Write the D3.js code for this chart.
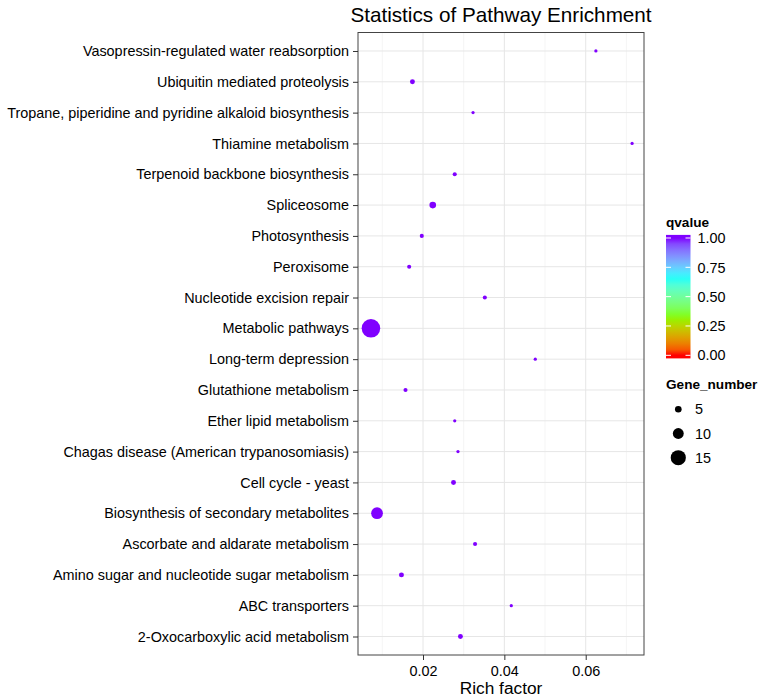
<!DOCTYPE html>
<html><head><meta charset="utf-8">
<script src="https://cdn.jsdelivr.net/npm/d3@7"></script>
<style>body{margin:0;background:#fff} text{font-family:"Liberation Sans",Arial,Helvetica,sans-serif}</style>
</head><body><svg id="c" width="765" height="699"></svg>
<script>
// ---- data (top to bottom as displayed) ----
const pathways = [
  "Vasopressin-regulated water reabsorption",
  "Ubiquitin mediated proteolysis",
  "Tropane, piperidine and pyridine alkaloid biosynthesis",
  "Thiamine metabolism",
  "Terpenoid backbone biosynthesis",
  "Spliceosome",
  "Photosynthesis",
  "Peroxisome",
  "Nucleotide excision repair",
  "Metabolic pathways",
  "Long-term depression",
  "Glutathione metabolism",
  "Ether lipid metabolism",
  "Chagas disease (American trypanosomiasis)",
  "Cell cycle - yeast",
  "Biosynthesis of secondary metabolites",
  "Ascorbate and aldarate metabolism",
  "Amino sugar and nucleotide sugar metabolism",
  "ABC transporters",
  "2-Oxocarboxylic acid metabolism"
];
const richFactor = [0.0625, 0.0174, 0.0323, 0.0714, 0.0278, 0.0224, 0.0197, 0.0166, 0.0352, 0.0072,
                    0.0476, 0.0157, 0.0278, 0.0286, 0.0275, 0.0087, 0.0328, 0.0147, 0.0417, 0.0292];
const geneNumber = [1, 3, 1, 1, 2, 5, 2, 2, 2, 19, 1, 2, 1, 1, 3, 11, 2, 3, 1, 3];
const qvalue     = [1, 1, 1, 1, 1, 1, 1, 1, 1, 1, 1, 1, 1, 1, 1, 1, 1, 1, 1, 1];
const xTicks = [0.02, 0.04, 0.06];
const xMinor = [0.01, 0.03, 0.05, 0.07];
const qTicks = [0, 0.25, 0.5, 0.75, 1];
const sizeBreaks = [5, 10, 15];
const qColours = ["#FF0000", "#80FF00", "#00FFFF", "#8000FF"];

// ---- layout ----
const svg = d3.select("#c");
const P = {left: 358, right: 644, top: 32.5, bottom: 655};
const font = '"Liberation Sans",Arial,Helvetica,sans-serif';
const FS = 14.4;

const x = d3.scaleLinear().domain([0.00402, 0.07433]).range([P.left, P.right]);
const y = d3.scalePoint().domain(pathways).range([P.top, P.bottom]).padding(0.6);
const dia = d3.scaleLinear().domain(d3.extent(geneNumber)).range([3.25, 18.55]);
const col = d3.scaleLinear().domain([0, 1/3, 2/3, 1]).range(qColours).interpolate(d3.interpolateLab);

// title
svg.append("text").attr("x", (P.left + P.right) / 2).attr("y", 22.2).attr("text-anchor", "middle")
  .attr("font-size", 20.7).attr("fill", "#000").text("Statistics of Pathway Enrichment");

// grid
const g = svg.append("g");
g.selectAll(".minor").data(xMinor).join("line")
  .attr("x1", d => x(d)).attr("x2", d => x(d)).attr("y1", P.top).attr("y2", P.bottom)
  .attr("stroke", "#f2f2f2").attr("stroke-width", 0.8);
g.selectAll(".majx").data(xTicks).join("line")
  .attr("x1", d => x(d)).attr("x2", d => x(d)).attr("y1", P.top).attr("y2", P.bottom)
  .attr("stroke", "#e6e6e6").attr("stroke-width", 1);
g.selectAll(".majy").data(pathways).join("line")
  .attr("x1", P.left).attr("x2", P.right).attr("y1", d => y(d)).attr("y2", d => y(d))
  .attr("stroke", "#e6e6e6").attr("stroke-width", 1);

// points
svg.append("g").selectAll("circle").data(pathways).join("circle")
  .attr("cx", (d, i) => x(richFactor[i]))
  .attr("cy", d => y(d))
  .attr("r", (d, i) => dia(geneNumber[i]) / 2)
  .attr("fill", (d, i) => col(qvalue[i]));

// border
svg.append("rect").attr("x", P.left).attr("y", P.top).attr("width", P.right - P.left).attr("height", P.bottom - P.top)
  .attr("fill", "none").attr("stroke", "#444").attr("stroke-width", 1);

// axes
const ya = svg.append("g").attr("transform", `translate(${P.left},0)`)
  .call(d3.axisLeft(y).tickSize(5).tickPadding(4));
ya.select(".domain").remove();
ya.selectAll("line").attr("stroke", "#333");
ya.selectAll("text").attr("font-size", FS).attr("fill", "#000").attr("font-family", font);

const xa = svg.append("g").attr("transform", `translate(0,${P.bottom})`)
  .call(d3.axisBottom(x).tickValues(xTicks).tickFormat(d3.format(".2f")).tickSize(5).tickPadding(6));
xa.select(".domain").remove();
xa.selectAll("line").attr("stroke", "#333");
xa.selectAll("text").attr("font-size", FS).attr("fill", "#000").attr("font-family", font);

svg.append("text").attr("x", (P.left + P.right) / 2).attr("y", 694).attr("text-anchor", "middle")
  .attr("font-size", 17.3).attr("fill", "#000").text("Rich factor");

// colour legend
const L = {x: 666, w: 24.5, t: 234.9, b: 358.4};
const half = (L.b - L.t) / 40;
const qy = d3.scaleLinear().domain([0, 1]).range([L.b - half, L.t + half]);
svg.append("text").attr("x", L.x).attr("y", 227).attr("font-size", 13.6).attr("font-weight", "bold")
  .attr("fill", "#000").text("qvalue");
const grad = svg.append("defs").append("linearGradient").attr("id", "qg")
  .attr("x1", 0).attr("y1", 1).attr("x2", 0).attr("y2", 0);
d3.range(0, 1.0001, 0.05).forEach(v => {
  grad.append("stop").attr("offset", (L.b - qy(v)) / (L.b - L.t)).attr("stop-color", col(v));
});
svg.append("rect").attr("x", L.x).attr("y", L.t).attr("width", L.w).attr("height", L.b - L.t).attr("fill", "url(#qg)");
const tk = svg.append("g");
qTicks.forEach(v => {
  tk.append("line").attr("x1", L.x).attr("x2", L.x + 5).attr("y1", qy(v)).attr("y2", qy(v)).attr("stroke", "#fff").attr("stroke-width", 1);
  tk.append("line").attr("x1", L.x + L.w - 5).attr("x2", L.x + L.w).attr("y1", qy(v)).attr("y2", qy(v)).attr("stroke", "#fff").attr("stroke-width", 1);
  tk.append("text").attr("x", 697.5).attr("y", qy(v)).attr("dy", "0.36em").attr("font-size", FS)
    .attr("fill", "#000").text(d3.format(".2f")(v));
});

// size legend
svg.append("text").attr("x", L.x).attr("y", 389).attr("font-size", 13.6).attr("font-weight", "bold")
  .attr("fill", "#000").text("Gene_number");
const sy = d3.scalePoint().domain(sizeBreaks).range([409.3, 457.7]);
sizeBreaks.forEach(v => {
  svg.append("circle").attr("cx", 678.3).attr("cy", sy(v)).attr("r", dia(v) / 2).attr("fill", "#000");
  svg.append("text").attr("x", 695).attr("y", sy(v)).attr("dy", "0.36em").attr("font-size", FS)
    .attr("fill", "#000").text(v);
});
</script></body></html>
